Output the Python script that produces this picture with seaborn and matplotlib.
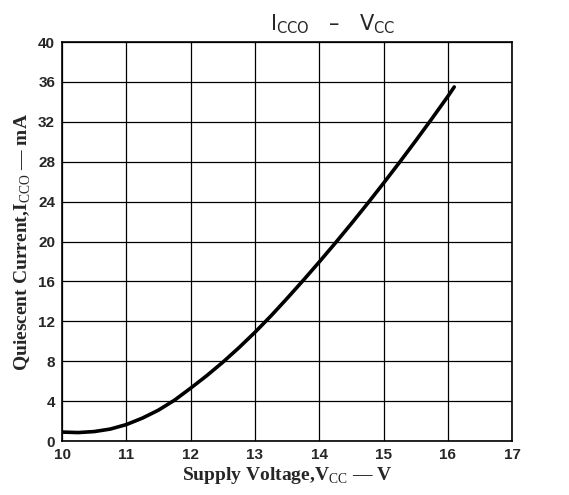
import matplotlib
matplotlib.use("Agg")
import matplotlib.pyplot as plt
import seaborn as sns
import pandas as pd

# Quiescent current vs supply voltage
supply_voltage = [10.0, 10.25, 10.5, 10.75, 11.0, 11.25, 11.5, 11.75, 12.0,
                  12.25, 12.5, 12.75, 13.0, 13.25, 13.5, 13.75, 14.0,
                  14.25, 14.5, 14.75, 15.0, 15.25, 15.5, 15.75, 16.0, 16.1]
quiescent_current = [0.9, 0.85, 0.95, 1.2, 1.65, 2.3, 3.1, 4.1, 5.3,
                     6.55, 7.9, 9.35, 10.9, 12.55, 14.3, 16.1, 17.95,
                     19.85, 21.8, 23.8, 25.85, 27.95, 30.1, 32.3, 34.55, 35.5]

x_ticks = [10, 11, 12, 13, 14, 15, 16, 17]
y_ticks = [0, 4, 8, 12, 16, 20, 24, 28, 32, 36, 40]

df = pd.DataFrame({"Vcc": supply_voltage, "Icco": quiescent_current})

sns.set_style("white")
plt.rcParams["font.family"] = ["DejaVu Sans"]
plt.rcParams["mathtext.fontset"] = "custom"
plt.rcParams["mathtext.rm"] = "Liberation Serif"
plt.rcParams["mathtext.sf"] = "DejaVu Sans"

fig = plt.figure(figsize=(5.69, 4.95), dpi=100)
ax = fig.add_axes([0.109, 0.109, 0.791, 0.806])

sns.lineplot(data=df, x="Vcc", y="Icco", ax=ax, color="black", linewidth=2.6)

ax.set_xlim(10, 17)
ax.set_ylim(0, 40)
ax.set_xticks(x_ticks)
ax.set_yticks(y_ticks)
ax.set_xticklabels([str(v) for v in x_ticks], fontsize=11, fontweight="bold",
                   family="Liberation Sans")
ax.set_yticklabels([str(v) for v in y_ticks], fontsize=11, fontweight="bold",
                   family="Liberation Sans")
ax.tick_params(axis="x", length=0, pad=5)
ax.tick_params(axis="y", length=0, pad=5)

ax.grid(True, color="black", linewidth=0.9)
for s in ax.spines.values():
    s.set_visible(True)
    s.set_color("black")
    s.set_linewidth(1.2)

ax.set_xlabel("Supply Voltage,V$_{\\mathrm{CC}}$ \u2014 V", fontsize=14,
              fontweight="bold", family="Liberation Serif", labelpad=2)
ax.set_ylabel("Quiescent Current,I$_{\\mathrm{CCO}}$ \u2014 mA", fontsize=14,
              fontweight="bold", family="Liberation Serif", labelpad=4)

fig.text(0.585, 0.952, "I$_{\\mathsf{CCO}}$   \u2013   V$_{\\mathsf{CC}}$",
         ha="center", va="center", fontsize=15, family="DejaVu Sans")

fig.savefig("out.png", dpi=100, facecolor="white")
